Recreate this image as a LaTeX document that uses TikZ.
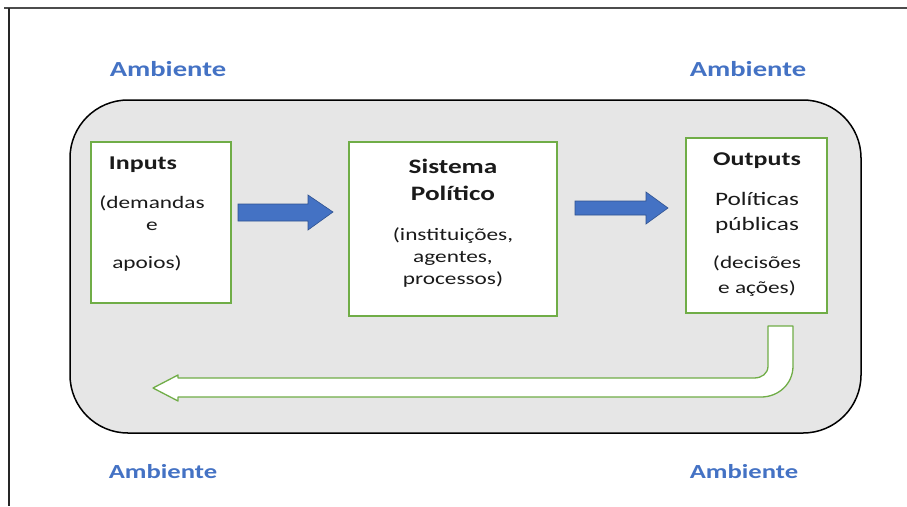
\documentclass[tikz,border=0pt]{standalone}
\usepackage{fontspec}
\setmainfont{Carlito}[FakeStretch=1.33]
\definecolor{ambblue}{HTML}{4472C4}
\definecolor{arrblue}{HTML}{4472C4}
\definecolor{arredge}{HTML}{2F528F}
\definecolor{boxgreen}{HTML}{70AD47}
\definecolor{envgray}{HTML}{E6E6E6}
\definecolor{txt}{HTML}{1A1A1A}
\tikzset{
  amb/.style={anchor=base, text=ambblue, font=\fontsize{21.5}{24}\selectfont\bfseries, inner sep=0pt},
  ambsmall/.style={amb, font=\fontsize{20}{24}\selectfont\bfseries},
  ttl/.style={anchor=base, text=txt, font=\fontsize{19.5}{22}\selectfont\bfseries, inner sep=0pt},
  reg/.style={anchor=base, text=txt, font=\fontsize{17.5}{20}\selectfont, inner sep=0pt},
  regbig/.style={reg, font=\fontsize{19}{22}\selectfont},
  gbox/.style={draw=boxgreen, line width=2.2pt, fill=white},
  barrow/.style={fill=arrblue, draw=arredge, line width=0.6pt},
  farrow/.style={fill=white, draw=boxgreen, line width=1.3pt, line join=round},
}
\begin{document}
\begin{tikzpicture}[x=1pt,y=-1pt]
\useasboundingbox (0,0) rectangle (907,506);
% frame lines
\coordinate (f1) at (4,8);
\coordinate (f2) at (907,8);
\coordinate (f3) at (9,8);
\coordinate (f4) at (9,506);
\draw[gray!60!black, line width=1.3pt] (f1) -- (f2);
\draw[black!85, line width=1.3pt] (f3) -- (f4);
% environment rounded rectangle
\draw[fill=envgray, draw=black, line width=1.5pt, rounded corners=58pt] (70,100) rectangle (861,433);
% Ambiente labels
\node[amb] (a1) at (168,76) {Ambiente};
\node[amb] (a2) at (748,76) {Ambiente};
\node[ambsmall] (a3) at (163,478) {Ambiente};
\node[ambsmall] (a4) at (744,478) {Ambiente};
% boxes
\path[gbox] (91,142) rectangle (231,303);
\path[gbox] (349,142) rectangle (557,316);
\path[gbox] (686,138) rectangle (827,313);
% Inputs text
\node[ttl] (i1) at (143,169) {Inputs};
\node[reg] (i2) at (152,208) {(demandas};
\node[reg] (i3) at (152,230) {e};
\node[reg] (i4) at (147,268) {apoios)};
% Sistema text
\node[ttl, font=\fontsize{20.5}{22}\selectfont\bfseries] (s1) at (453,173) {Sistema};
\node[ttl, font=\fontsize{20.5}{22}\selectfont\bfseries] (s2) at (453,200) {Político};
\node[reg] (s3) at (453,240) {(instituições,};
\node[reg] (s4) at (453,262) {agentes,};
\node[reg] (s5) at (453,284) {processos)};
% Outputs text
\node[ttl] (o1) at (757,165) {Outputs};
\node[regbig] (o2) at (757,205) {Políticas};
\node[regbig] (o3) at (757,230) {públicas};
\node[reg] (o4) at (757,268) {(decisões};
\node[reg] (o5) at (757,293) {e ações)};
% blue block arrows
\path[barrow] (238,204) -- (308,204) -- (308,195) -- (333,212) -- (308,230) -- (308,221) -- (238,221) -- cycle;
\path[barrow] (575,201) -- (646,201) -- (646,192) -- (668,208) -- (646,224) -- (646,215) -- (575,215) -- cycle;
% feedback arrow
\path[farrow] (768,326) -- (793,326) -- (793,366)
  .. controls (793,383.7) and (778.7,397) .. (761,397)
  -- (178,397) -- (178,401) -- (153,388) -- (178,375) -- (178,378)
  -- (754,378) .. controls (761.7,378) and (768,373.7) .. (768,366) -- cycle;
\end{tikzpicture}
\end{document}
